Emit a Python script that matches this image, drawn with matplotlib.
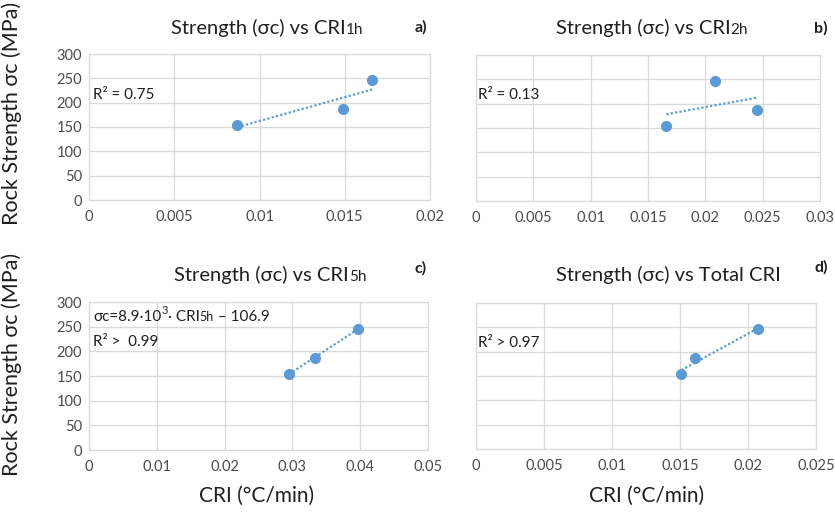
import numpy as np
import matplotlib.pyplot as plt

# data
strength = [155, 186, 246]          # rock strength sigma_c (MPa), same rock order in every panel
cri_1h = [0.0087, 0.0149, 0.0166]
cri_2h = [0.0166, 0.0245, 0.0208]
cri_5h = [0.0295, 0.0333, 0.0397]
cri_total = [0.0151, 0.0161, 0.0207]

y_ticks = [0, 50, 100, 150, 200, 250, 300]
x_ticks_1h = [0, 0.005, 0.01, 0.015, 0.02]
x_ticks_2h = [0, 0.005, 0.01, 0.015, 0.02, 0.025, 0.03]
x_ticks_5h = [0, 0.01, 0.02, 0.03, 0.04, 0.05]
x_ticks_total = [0, 0.005, 0.01, 0.015, 0.02, 0.025]

FAM = ['Lato', 'DejaVu Sans']
BLUE = '#5B9BD5'
GRID = '#D9D9D9'
TXT = '#1f1f1f'
TICK = '#4a4a4a'

W, H = 835, 512
plt.rcParams['font.family'] = FAM

fig = plt.figure(figsize=(W / 100, H / 100), dpi=100)
renderer = fig.canvas.get_renderer()


def px_axes(left, top, right, bottom):
    # axes rectangle given in pixels from the top-left corner
    return fig.add_axes([left / W, 1 - bottom / H, (right - left) / W, (bottom - top) / H])


def rich(x_px, y_px, parts, center=False, color=TXT):
    """Draw a line of text made of pieces with different sizes / baseline shifts."""
    texts, widths = [], []
    for s, size, dy in parts:
        t = fig.text(0, 0, s, fontsize=size, family=FAM, color=color, va='baseline')
        texts.append(t)
        widths.append(t.get_window_extent(renderer).width)
    start = x_px - sum(widths) / 2 if center else x_px
    for t, w, (s, size, dy) in zip(texts, widths, parts):
        t.set_position((start / W, (H - y_px + dy) / H))
        start += w


def panel(ax, x, y, xticks, show_y):
    ax.plot(x, y, 'o', color=BLUE, markersize=7, zorder=3)
    k, b = np.polyfit(x, y, 1)
    xs = np.array([min(x), max(x)])
    ax.plot(xs, k * xs + b, color=BLUE, lw=1.6, linestyle=(0, (1, 1)), zorder=2)
    ax.set_xlim(xticks[0], xticks[-1])
    ax.set_ylim(0, 300)
    ax.set_xticks(xticks)
    ax.set_xticklabels([f'{v:g}' for v in xticks])
    ax.set_yticks(y_ticks)
    if not show_y:
        ax.set_yticklabels([])
    ax.grid(True, color=GRID, lw=0.9)
    ax.set_axisbelow(True)
    for s in ax.spines.values():
        s.set_color(GRID)
        s.set_linewidth(0.9)
    ax.tick_params(length=0, labelsize=10.5, labelcolor=TICK)
    ax.tick_params(axis='y', pad=5)
    ax.tick_params(axis='x', pad=7)


ax_a = px_axes(89, 54, 430, 200)
ax_b = px_axes(476, 55, 820, 201)
ax_c = px_axes(89, 302, 428, 450)
ax_d = px_axes(476, 303, 816, 449)

panel(ax_a, cri_1h, strength, x_ticks_1h, True)
panel(ax_b, cri_2h, strength, x_ticks_2h, False)
panel(ax_c, cri_5h, strength, x_ticks_5h, True)
panel(ax_d, cri_total, strength, x_ticks_total, False)

# titles with small "1h" style suffix
rich(267, 34, [('Strength (σc) vs CRI', 14.5, 0), ('1h', 11, 0)], center=True)
rich(652, 34, [('Strength (σc) vs CRI', 14.5, 0), ('2h', 11, 0)], center=True)
rich(270, 281, [('Strength (σc) vs CRI', 14.5, 0), ('5h', 11, 0)], center=True)
rich(668, 281, [('Strength (σc) vs Total CRI', 14.5, 0)], center=True)

# panel letters
for x, y, s in [(421, 32, 'a)'), (821, 33, 'b)'), (421, 273, 'c)'), (821, 272, 'd)')]:
    fig.text(x / W, 1 - y / H, s, fontsize=11.5, fontweight='bold', color=TXT,
             ha='center', va='baseline')

# fit annotations
rich(93, 99, [('R² = 0.75', 11, 0)])
rich(478, 99, [('R² = 0.13', 11, 0)])
rich(93, 321, [('σc=8.9·10', 11, 0), ('3', 8, 7), ('· CRI', 11, 0), ('5h', 9, 0),
               (' – 106.9', 11, 0)])
rich(93, 346, [('R² >  0.99', 11, 0)])
rich(478, 347, [('R² > 0.97', 11, 0)])

# axis labels
for yc in [113, 364]:
    fig.text(12 / W, 1 - yc / H, 'Rock Strength σc (MPa)', rotation=90, fontsize=15.5,
             color=TXT, ha='center', va='center')
for xc in [257, 647]:
    fig.text(xc / W, 1 - 496 / H, 'CRI (°C/min)', fontsize=15, color=TXT,
             ha='center', va='center')

fig.savefig('out.png', dpi=100, facecolor='white')
